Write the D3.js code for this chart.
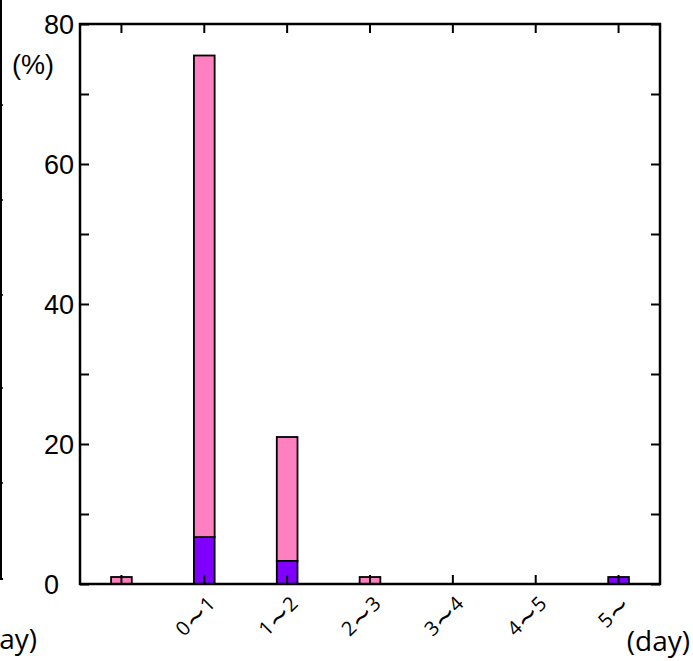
<!DOCTYPE html>
<html>
<head>
<meta charset="utf-8">
<script src="https://cdn.jsdelivr.net/npm/d3@7"></script>
<style>
  body { margin: 0; background: #fff; }
  svg { display: block; }
</style>
</head>
<body>
<svg id="chart"></svg>
<script>
// category labels (first one has no label in the original)
var categories = ["", "0~1", "1~2", "2~3", "3~4", "4~5", "5~"];
// purple part (bottom) and pink part (top), in %
var purpleValues = [0, 6.7, 3.3, 0, 0, 0, 1.0];
var pinkValues = [1.0, 68.8, 17.7, 1.0, 0, 0, 0];
var yTicks = [0, 20, 40, 60, 80];
var yMinorTicks = [0, 10, 20, 30, 40, 50, 60, 70, 80];
// neighbour panel's axis, cut off at the left edge
var leftPanelTicks = [105, 200, 295, 388, 483];

const svgWidth = 693;
const svgHeight = 661;
const plot = { left: 80, right: 660, top: 24, bottom: 584 };

var svg = d3.select("#chart")
    .attr("width", svgWidth)
    .attr("height", svgHeight);

var x = d3.scaleBand()
    .domain(d3.range(categories.length))
    .range([plot.left, plot.right])
    .paddingInner(0.75)
    .paddingOuter(0.375);

var y = d3.scaleLinear()
    .domain([0, 80])
    .range([plot.bottom, plot.top]);

var rows = categories.map(function(c, i) {
    return { i: i, purple: purpleValues[i], pink: pinkValues[i] };
});
var stacked = d3.stack().keys(["purple", "pink"])(rows);
var colors = { purple: "#8000ff", pink: "#ff80c0" };

// bars
svg.append("g").selectAll("g")
    .data(stacked)
    .enter()
    .append("g")
    .attr("fill", function(s) { return colors[s.key]; })
    .selectAll("rect")
    .data(function(s) { return s.filter(function(d) { return d[1] - d[0] > 0; }); })
    .enter()
    .append("rect")
    .attr("x", function(d) { return x(d.data.i); })
    .attr("width", x.bandwidth())
    .attr("y", function(d) { return y(d[1]); })
    .attr("height", function(d) { return y(d[0]) - y(d[1]); })
    .attr("stroke", "#000")
    .attr("stroke-width", 1.8);

// inside ticks, all four sides
var tickLen = 9;
var xCenter = function(i) { return x(i) + x.bandwidth() / 2; };

svg.append("g")
    .attr("transform", "translate(" + plot.left + ",0)")
    .call(d3.axisRight(y).tickValues(yMinorTicks).tickSize(tickLen).tickFormat(""));
svg.append("g")
    .attr("transform", "translate(" + plot.right + ",0)")
    .call(d3.axisLeft(y).tickValues(yMinorTicks).tickSize(tickLen).tickFormat(""));

svg.append("g").selectAll("line")
    .data(d3.range(categories.length))
    .enter()
    .append("line")
    .attr("x1", xCenter).attr("x2", xCenter)
    .attr("y1", plot.top).attr("y2", plot.top + tickLen);
svg.append("g").selectAll("line")
    .data(d3.range(categories.length))
    .enter()
    .append("line")
    .attr("x1", xCenter).attr("x2", xCenter)
    .attr("y1", plot.bottom).attr("y2", plot.bottom - tickLen);

svg.selectAll(".domain").remove();
svg.selectAll("line").attr("stroke", "#000").attr("stroke-width", 2);

// frame
svg.append("rect")
    .attr("x", plot.left)
    .attr("y", plot.top)
    .attr("width", plot.right - plot.left)
    .attr("height", plot.bottom - plot.top)
    .attr("fill", "none")
    .attr("stroke", "#000")
    .attr("stroke-width", 2.5);

// y labels (left aligned, as in the original)
svg.append("g").selectAll("text")
    .data(yTicks)
    .enter()
    .append("text")
    .attr("x", 44)
    .attr("y", function(d) { return y(d); })
    .attr("dy", "0.36em")
    .attr("text-anchor", "start")
    .attr("font-family", "Liberation Sans, Arial, sans-serif")
    .attr("font-size", 27)
    .text(function(d) { return d; });

svg.append("text")
    .attr("x", 12)
    .attr("y", 74)
    .attr("font-family", "Liberation Sans, Arial, sans-serif")
    .attr("font-size", 27)
    .text("(%)");

// x labels, rotated; the tilde is drawn larger, like the wide one in the original
var xLabels = svg.append("g").selectAll("text")
    .data(categories)
    .enter()
    .append("text")
    .attr("transform", function(d, i) {
        return "translate(" + (xCenter(i) + 12) + "," + (plot.bottom + 21) + ") rotate(-45)";
    })
    .attr("text-anchor", "end")
    .attr("font-family", "'Open Sans', sans-serif")
    .attr("font-size", 20);

xLabels.each(function(d) {
    var t = d3.select(this);
    var shifted = false;
    d.split(/(~)/).forEach(function(part) {
        if (!part) return;
        var span = t.append("tspan").text(part);
        if (part === "~") {
            span.attr("font-family", "'DejaVu Sans', sans-serif")
                .attr("font-size", 27)
                .attr("dy", 3);
            shifted = true;
        } else if (shifted) {
            span.attr("dy", -3);
            shifted = false;
        }
    });
});

svg.append("text")
    .attr("x", 690)
    .attr("y", 651)
    .attr("text-anchor", "end")
    .attr("font-family", "Open Sans, sans-serif")
    .attr("font-size", 28)
    .text("(day)");

svg.append("text")
    .attr("x", 37)
    .attr("y", 649)
    .attr("text-anchor", "end")
    .attr("font-family", "Open Sans, sans-serif")
    .attr("font-size", 28)
    .text("ay)");

// partial neighbouring panel axis at the left edge
svg.append("line")
    .attr("x1", 1).attr("x2", 1)
    .attr("y1", 0).attr("y2", 579)
    .attr("stroke", "#000").attr("stroke-width", 2);
svg.append("g").selectAll("line")
    .data(leftPanelTicks)
    .enter()
    .append("line")
    .attr("x1", 0).attr("x2", 3)
    .attr("y1", function(d) { return d; })
    .attr("y2", function(d) { return d; })
    .attr("stroke", "#000").attr("stroke-width", 1.5);
svg.append("line")
    .attr("x1", 0).attr("x2", 3)
    .attr("y1", 579).attr("y2", 579)
    .attr("stroke", "#000").attr("stroke-width", 2);
</script>
</body>
</html>
